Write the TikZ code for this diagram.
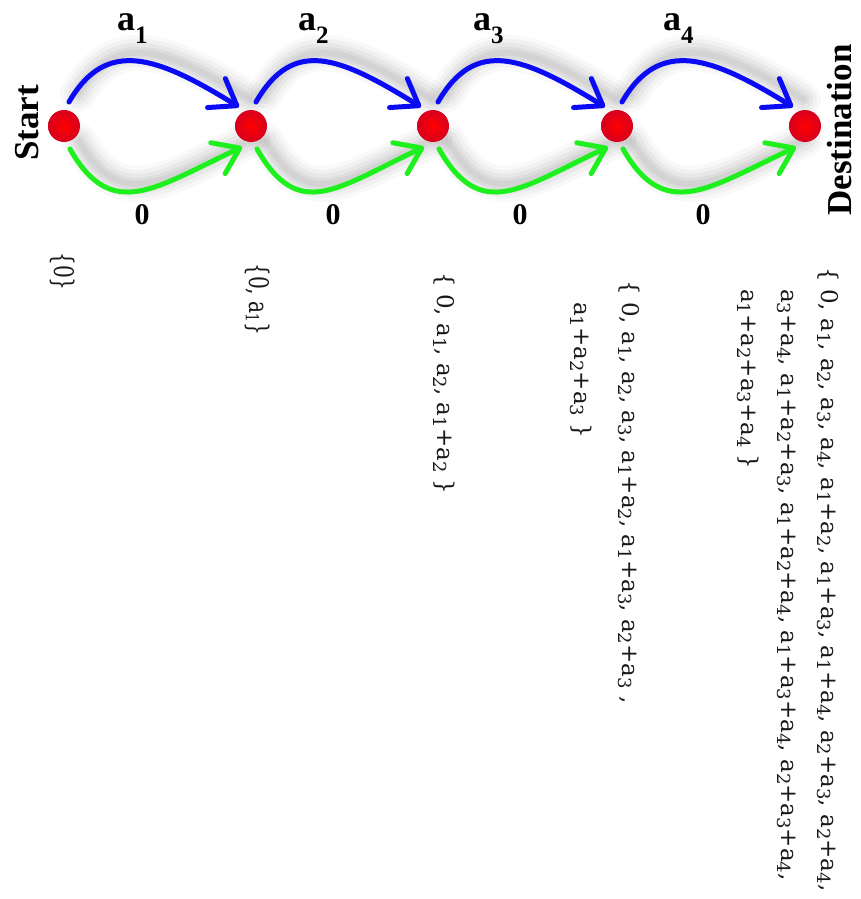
\documentclass[tikz,border=0pt]{standalone}
\usepackage{fontspec}
\setmainfont{Liberation Serif}
\newfontfamily\setsfont{DejaVu Serif}
\newfontfamily\setsnarrow[FakeStretch=0.75]{DejaVu Serif}
\usetikzlibrary{arrows.meta}
\pgfdeclarelayer{paper}
\pgfdeclarelayer{haze}
\pgfsetlayers{paper,haze,main}

% index digit inside the set lists
\newcommand\ix[1]{\raisebox{-4pt}{\fontsize{18}{18}\selectfont #1}}
% bold weight label a_i over a blue arc
\newcommand\wlab[1]{a\raisebox{-13pt}{\fontsize{25}{25}\selectfont #1}}

\tikzset{
  stopdot/.style={circle, minimum size=32pt, inner sep=0pt,
    inner color=red, outer color={rgb,255:red,215;green,0;blue,30}},
  takearc/.style={draw={rgb,255:red,10;green,10;blue,245}, line width=5pt, line cap=round,
    -{Straight Barb[length=24pt,width=34pt,line cap=round,line join=round]}},
  skiparc/.style={draw={rgb,255:red,30;green,240;blue,30}, line width=5pt, line cap=round,
    -{Straight Barb[length=24pt,width=34pt,line cap=round,line join=round]}},
  hazeline/.style={draw=black, line cap=round},
  wlabel/.style={font=\bfseries\fontsize{36}{36}\selectfont, inner sep=0pt},
  zlabel/.style={font=\bfseries\fontsize{30}{30}\selectfont, inner sep=0pt},
  endlabel/.style={font=\bfseries\fontsize{35}{35}\selectfont, inner sep=0pt, rotate=90},
  settext/.style={rotate=-90, anchor=north west, inner sep=0pt, align=left,
    text=black!90},
}

% one stage: soft shadow, then the "take a_i" arc and the "skip" arc
\newcommand\segment[2]{%
  \begin{pgfonlayer}{haze}
    \foreach \w/\o in {36/0.025,28/0.03,20/0.04,12/0.045,6/0.045}{%
      \draw[hazeline, line width=\w pt, opacity=\o]
        ([shift={(14,32)}]#1.center) .. controls +(37.5,65) and +(-81,50) .. ([shift={(-2,27)}]#2.center);
      \draw[hazeline, line width=\w pt, opacity=\o]
        ([shift={(15,-15)}]#1.center) .. controls +(42,-74) and +(-86,-40) .. ([shift={(1,-13)}]#2.center);
    }
  \end{pgfonlayer}
  \draw[takearc]
    ([shift={(5,24)}]#1.center) .. controls +(37.5,65) and +(-81,50) .. ([shift={(-12,19)}]#2.center);
  \draw[skiparc]
    ([shift={(6,-23)}]#1.center) .. controls +(42,-74) and +(-86,-40) .. ([shift={(-9,-21)}]#2.center);
}

\begin{document}
\begin{tikzpicture}[x=1pt, y=1pt]
  \useasboundingbox (0,0) rectangle (860,-899);
  \begin{pgfonlayer}{paper}
    \fill[white] (0,0) rectangle (860,-899);
  \end{pgfonlayer}

  % stations
  \node[stopdot] (n1) at (64,-126) {};
  \node[stopdot] (n2) at (251,-126) {};
  \node[stopdot] (n3) at (433,-126) {};
  \node[stopdot] (n4) at (617,-126) {};
  \node[stopdot] (n5) at (805,-126) {};

  \segment{n1}{n2}
  \segment{n2}{n3}
  \segment{n3}{n4}
  \segment{n4}{n5}

  % arc labels
  \node[wlabel, anchor=base west] (w1) at (117,-31) {\wlab{1}};
  \node[wlabel, anchor=base west] (w2) at (298,-31) {\wlab{2}};
  \node[wlabel, anchor=base west] (w3) at (473,-31) {\wlab{3}};
  \node[wlabel, anchor=base west] (w4) at (663,-31) {\wlab{4}};

  \node[zlabel] (z1) at (142,-215) {0};
  \node[zlabel] (z2) at (333,-215) {0};
  \node[zlabel] (z3) at (520,-215) {0};
  \node[zlabel] (z4) at (703,-215) {0};

  \node[endlabel] (start) at (27,-123) {Start};
  \node[endlabel] (dest) at (840,-130) {Destination};

  % reachable sums after each stage
  \node[settext, font=\setsnarrow\fontsize{27}{40}\selectfont] (s1) at (75.5,-252) {\{0\}};
  \node[settext, font=\setsnarrow\fontsize{27}{40}\selectfont] (s2) at (270.5,-263) {\{0, a\ix1\}};
  \node[settext, font=\setsfont\fontsize{23}{40}\selectfont] (s3) at (455.5,-272)
    {\{ 0, a\ix1, a\ix2, a\ix1+a\ix2 \}};
  \node[settext, font=\setsfont\fontsize{23}{48}\selectfont] (s4) at (640.5,-280)
    {\{ 0, a\ix1, a\ix2, a\ix3, a\ix1+a\ix2, a\ix1+a\ix3, a\ix2+a\ix3 ,\\
     \hphantom{\{ }a\ix1+a\ix2+a\ix3 \}};
  \node[settext, font=\setsfont\fontsize{23}{40}\selectfont] (s5) at (839.5,-267)
    {\{ 0, a\ix1, a\ix2, a\ix3, a\ix4, a\ix1+a\ix2, a\ix1+a\ix3, a\ix1+a\ix4, a\ix2+a\ix3, a\ix2+a\ix4,\\
     \hphantom{\{ }a\ix3+a\ix4, a\ix1+a\ix2+a\ix3, a\ix1+a\ix2+a\ix4, a\ix1+a\ix3+a\ix4, a\ix2+a\ix3+a\ix4,\\
     \hphantom{\{ }a\ix1+a\ix2+a\ix3+a\ix4 \}};
\end{tikzpicture}
\end{document}
